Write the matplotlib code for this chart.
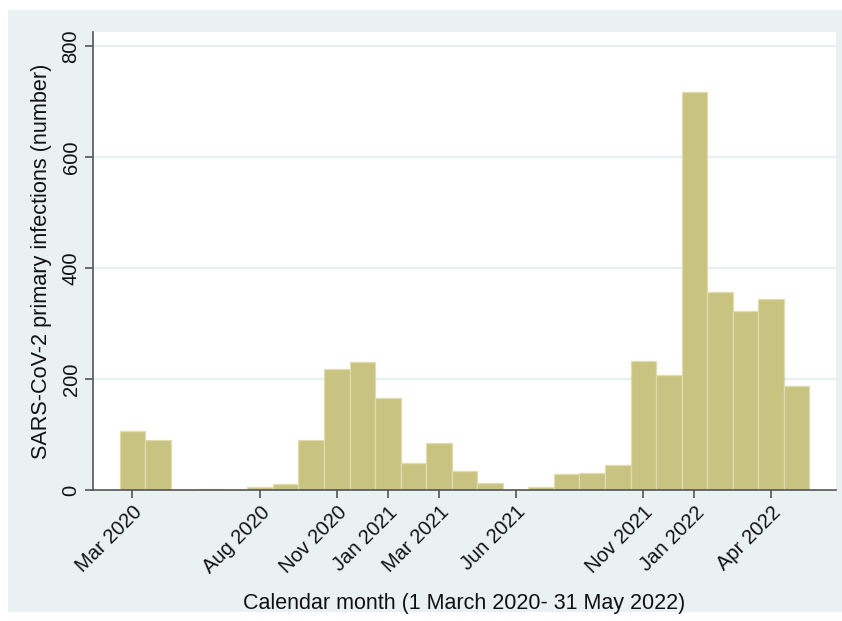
import matplotlib
matplotlib.use("Agg")
import matplotlib.pyplot as plt
from matplotlib.patches import Rectangle

plt.rcParams['font.family'] = ['Liberation Sans', 'DejaVu Sans']

months = ["Mar 2020", "Apr 2020", "May 2020", "Jun 2020", "Jul 2020", "Aug 2020",
          "Sep 2020", "Oct 2020", "Nov 2020", "Dec 2020", "Jan 2021", "Feb 2021",
          "Mar 2021", "Apr 2021", "May 2021", "Jun 2021", "Jul 2021", "Aug 2021",
          "Sep 2021", "Oct 2021", "Nov 2021", "Dec 2021", "Jan 2022", "Feb 2022",
          "Mar 2022", "Apr 2022", "May 2022"]
infections = [107, 90, 0, 2, 0, 6, 11, 90, 218, 231, 166, 48, 84, 34, 12, 0, 5,
              29, 31, 45, 232, 208, 718, 357, 323, 344, 187]
tick_labels = ["Mar 2020", "Aug 2020", "Nov 2020", "Jan 2021", "Mar 2021",
               "Jun 2021", "Nov 2021", "Jan 2022", "Apr 2022"]
y_ticks = [0, 200, 400, 600, 800]

W, H = 842, 621
fig = plt.figure(figsize=(W / 100, H / 100), dpi=100)
fig.patch.set_facecolor("white")
bg = "#EAF1F3"
fig.patches.append(Rectangle((8 / W, 1 - 612 / H), (W - 8) / W, (612 - 10) / H,
                             transform=fig.transFigure, facecolor=bg,
                             edgecolor="none", zorder=-5))

ax = fig.add_axes([93 / W, 1 - 490 / H, (836 - 93) / W, (490 - 32) / H])
ax.set_zorder(2)
ax.set_facecolor("white")

x = list(range(len(months)))
ax.bar(x, infections, width=1.0, color="#C9C381", edgecolor="#E0DCB0",
       linewidth=0.9, zorder=1.5)

ax.set_xlim(-1.54, 27.54)
ax.set_ylim(0, 826)

for v in y_ticks[1:]:
    ax.axhline(v, color="#E6EFF1", linewidth=1.6, zorder=1)

ax.set_yticks(y_ticks)
ax.set_yticklabels([str(v) for v in y_ticks], rotation=90, va="center",
                   fontsize=14.5, color="#111111")
tick_pos = [months.index(m) for m in tick_labels]
ax.set_xticks(tick_pos)
ax.set_xticklabels(tick_labels, rotation=45, ha="right", rotation_mode="anchor",
                   fontsize=14.5, color="#111111")

for s in ["top", "right"]:
    ax.spines[s].set_visible(False)
for s in ["left", "bottom"]:
    ax.spines[s].set_color("#555555")
    ax.spines[s].set_linewidth(1.2)
    ax.spines[s].set_zorder(3)
ax.tick_params(axis="both", direction="out", length=6, width=1.2, color="#555555")
ax.tick_params(axis="y", pad=3)
ax.tick_params(axis="x", pad=3)

ax.set_ylabel("SARS-CoV-2 primary infections (number)", fontsize=15.6,
              color="#111111", labelpad=7)
ax.set_xlabel("Calendar month (1 March 2020- 31 May 2022)", fontsize=15.5,
              color="#111111", labelpad=12)

fig.savefig("out.png", dpi=100)
